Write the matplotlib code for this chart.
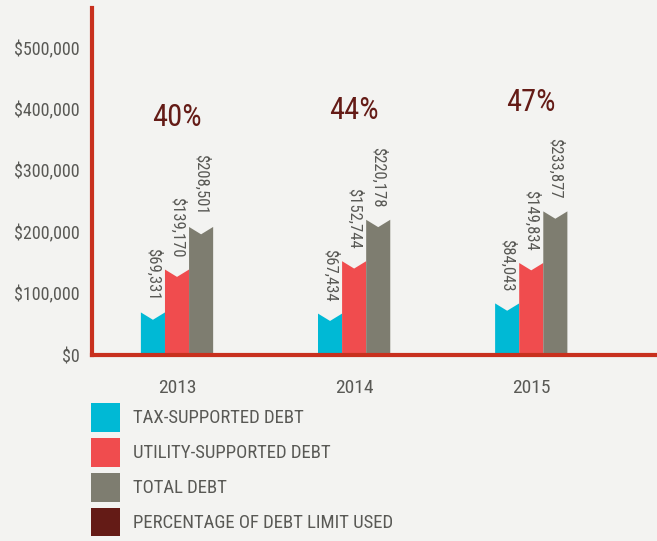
import matplotlib.pyplot as plt
from matplotlib import font_manager
from matplotlib.patches import Patch

years = ["2013", "2014", "2015"]
tax_debt = [69331, 67434, 84043]
utility_debt = [139170, 152744, 149834]
total_debt = [208501, 220178, 233877]
limit_used = ["40%", "44%", "47%"]
series_names = [
    "TAX-SUPPORTED DEBT",
    "UTILITY-SUPPORTED DEBT",
    "TOTAL DEBT",
    "PERCENTAGE OF DEBT LIMIT USED",
]
y_ticks = [0, 100000, 200000, 300000, 400000, 500000]

colors = ["#00B9D5", "#F04C4E", "#7E7D70", "#641B16"]
bg = "#F3F3F1"
text_color = "#595955"
axis_red = "#C8301E"

# pick a condensed face if one is installed
installed = {f.name for f in font_manager.fontManager.ttflist}
font = "DejaVu Sans"
for name in ("Roboto Condensed", "Liberation Sans Narrow",
             "Open Sans Condensed", "DejaVu Sans Condensed"):
    if name in installed:
        font = name
        break
plt.rcParams["font.family"] = [font, "DejaVu Sans"]

fig = plt.figure(figsize=(6.57, 5.41), dpi=100, facecolor=bg)
ax = fig.add_axes([92 / 657, 186 / 541, 565 / 657, 347 / 541])
ax.set_facecolor(bg)

width = 0.136
notch = 12000
series = [tax_debt, utility_debt, total_debt]

for i, year in enumerate(years):
    for k, values in enumerate(series):
        v = values[i]
        left = i + (k - 1) * width - width / 2
        right = left + width
        mid = (left + right) / 2
        ax.fill(
            [left, left, mid, right, right],
            [0, v, v - notch, v, 0],
            color=colors[k],
            linewidth=0,
        )
        ax.text(
            mid, v + 20000, f"${v:,}",
            rotation=-90, ha="center", va="bottom",
            fontsize=12, color=text_color,
        )
    ax.text(
        i, total_debt[i] + 178000, limit_used[i],
        ha="center", va="center",
        fontsize=22, color=colors[3],
    )

ax.set_xlim(-0.48, 2.71)
ax.set_ylim(0, 565000)
ax.set_xticks(range(len(years)))
ax.set_xticklabels(years)
ax.set_yticks(y_ticks)
ax.set_yticklabels([f"${t:,}" for t in y_ticks])
ax.tick_params(length=0, labelsize=13, colors=text_color)
ax.tick_params(axis="x", labelsize=14, pad=17)
ax.tick_params(axis="y", pad=9)

for side in ("top", "right"):
    ax.spines[side].set_visible(False)
for side in ("left", "bottom"):
    ax.spines[side].set_color(axis_red)
    ax.spines[side].set_linewidth(3)

handles = [Patch(facecolor=c, edgecolor="none") for c in colors]
fig.legend(
    handles, series_names,
    loc="upper left", bbox_to_anchor=(91 / 657, 1 - 403 / 541),
    frameon=False, fontsize=13.5, labelcolor=text_color,
    handlelength=1.55, handleheight=1.99, handletextpad=0.7,
    labelspacing=0.32, borderpad=0, borderaxespad=0,
)

fig.savefig("out.png", dpi=100, facecolor=bg)
